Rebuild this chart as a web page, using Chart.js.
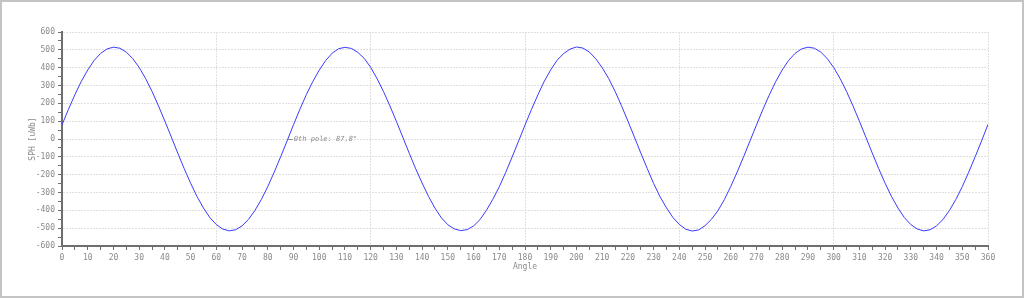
<!DOCTYPE html>
<html>
<head>
<meta charset="utf-8">
<script src="https://cdn.jsdelivr.net/npm/chart.js@4/dist/chart.umd.min.js"></script>
<style>
  html, body { margin: 0; padding: 0; background: #fff; }
  canvas { display: block; }
</style>
</head>
<body>
<canvas id="c" width="1024" height="298"></canvas>
<script>
// ---- data ----
const angles = [
  0,2.5,5,7.5,10,12.5,15,17.5,20,22.5,25,27.5,30,32.5,35,37.5,40,42.5,45,47.5,50,52.5,55,57.5,60,62.5,65,67.5,70,72.5,75,77.5,80,82.5,85,87.5,
  90,92.5,95,97.5,100,102.5,105,107.5,110,112.5,115,117.5,120,122.5,125,127.5,130,132.5,135,137.5,140,142.5,145,147.5,150,152.5,155,157.5,160,162.5,165,167.5,170,172.5,175,177.5,
  180,182.5,185,187.5,190,192.5,195,197.5,200,202.5,205,207.5,210,212.5,215,217.5,220,222.5,225,227.5,230,232.5,235,237.5,240,242.5,245,247.5,250,252.5,255,257.5,260,262.5,265,267.5,
  270,272.5,275,277.5,280,282.5,285,287.5,290,292.5,295,297.5,300,302.5,305,307.5,310,312.5,315,317.5,320,322.5,325,327.5,330,332.5,335,337.5,340,342.5,345,347.5,350,352.5,355,357.5,
  360
];
const sph = [
  79,166,248,323,387,441,480,505,515,509,487,451,401,339,267,186,100,11,-79,-166,-248,-323,-387,-441,-480,-505,-515,-509,-487,-451,-401,-339,-267,-186,-100,-11,
  80,167,249,322,386,440,481,506,514,508,486,452,402,338,266,185,99,10,-80,-167,-247,-322,-388,-442,-481,-504,-514,-508,-488,-452,-400,-338,-268,-187,-101,-12,
  78,165,247,324,388,442,479,504,516,510,488,450,400,340,268,187,101,12,-78,-165,-249,-324,-386,-440,-479,-506,-516,-510,-486,-450,-402,-340,-266,-185,-99,-10,
  79,166,248,323,387,441,480,505,515,509,487,451,401,339,267,186,100,11,-79,-166,-248,-323,-387,-441,-480,-505,-515,-509,-487,-451,-401,-339,-267,-186,-100,-11,
  82
];
const xTitle = 'Angle';
const yTitle = 'SPH [uWb]';
const poleAngle = [87.8];
const poleValue = [0];
const poleLabels = ['0th pole: 87.8\u00B0'];

// ---- styling ----
const MONO = '"DejaVu Sans Mono", "Liberation Mono", monospace';
const TEXT = '#8a8a8a';
const GRID = '#e0e0e0';
const AXIS = '#6e6e6e';

const frame = {
  id: 'frame',
  beforeDraw(chart) {
    const ctx = chart.ctx;
    ctx.save();
    ctx.fillStyle = '#fff';
    ctx.fillRect(0, 0, chart.width, chart.height);
    ctx.strokeStyle = '#c4c4c4';
    ctx.lineWidth = 2;
    ctx.strokeRect(1, 1, chart.width - 2, chart.height - 2);
    ctx.restore();
  }
};

const poleNote = {
  id: 'poleNote',
  afterDatasetsDraw(chart) {
    const ctx = chart.ctx;
    const xs = chart.scales.x, ys = chart.scales.y;
    ctx.save();
    for (let i = 0; i < poleAngle.length; i++) {
      const px = xs.getPixelForValue(poleAngle[i]);
      const py = ys.getPixelForValue(poleValue[i]);
      ctx.strokeStyle = TEXT;
      ctx.lineWidth = 1;
      ctx.beginPath();
      ctx.moveTo(px, Math.round(py) + 0.5);
      ctx.lineTo(px + 5, Math.round(py) + 0.5);
      ctx.stroke();
      ctx.fillStyle = TEXT;
      ctx.font = 'italic 7px ' + MONO;
      ctx.textBaseline = 'middle';
      ctx.textAlign = 'left';
      ctx.fillText(poleLabels[i], px + 6, py);
    }
    ctx.restore();
  }
};

new Chart(document.getElementById('c'), {
  type: 'line',
  data: {
    datasets: [{
      data: angles.map((a, i) => ({ x: a, y: sph[i] })),
      borderColor: '#3b3bff',
      borderWidth: 1,
      pointRadius: 0,
      tension: 0,
      fill: false
    }]
  },
  options: {
    responsive: false,
    animation: false,
    devicePixelRatio: 1,
    layout: { padding: { top: 32, right: 36, left: 0, bottom: 0 } },
    plugins: { legend: { display: false }, tooltip: { enabled: false } },
    scales: {
      x: {
        type: 'linear',
        min: 0, max: 360,
        afterFit(s) { s.height = 52; },
        ticks: {
          stepSize: 5, autoSkip: false, maxRotation: 0, minRotation: 0,
          padding: 3,
          color: TEXT,
          font: { family: MONO, size: 8 },
          callback: v => (v % 10 === 0 ? String(v) : '')
        },
        grid: {
          color: c => (c.tick && c.tick.value % 60 === 0 ? GRID : 'rgba(0,0,0,0)'),
          tickColor: AXIS,
          tickLength: 4,
          tickWidth: 1
        },
        border: { color: AXIS, width: 2, dash: [2, 1] },
        title: {
          display: true, text: xTitle, color: TEXT,
          font: { family: MONO, size: 8 },
          padding: { top: 0, bottom: 26 }
        }
      },
      y: {
        type: 'linear',
        min: -600, max: 600,
        afterFit(s) { s.width = 62; },
        ticks: {
          stepSize: 50, autoSkip: false,
          padding: 3,
          color: TEXT,
          font: { family: MONO, size: 8 },
          callback: v => (v % 100 === 0 ? String(v) : '')
        },
        grid: {
          color: c => (c.tick && c.tick.value % 100 === 0 ? GRID : 'rgba(0,0,0,0)'),
          tickColor: AXIS,
          tickLength: 4,
          tickWidth: 1
        },
        border: { color: AXIS, width: 2, dash: [2, 1] },
        title: {
          display: true, text: yTitle, color: TEXT,
          font: { family: MONO, size: 8 },
          padding: { top: 28, bottom: 0 }
        }
      }
    }
  },
  plugins: [frame, poleNote]
});
</script>
</body>
</html>
